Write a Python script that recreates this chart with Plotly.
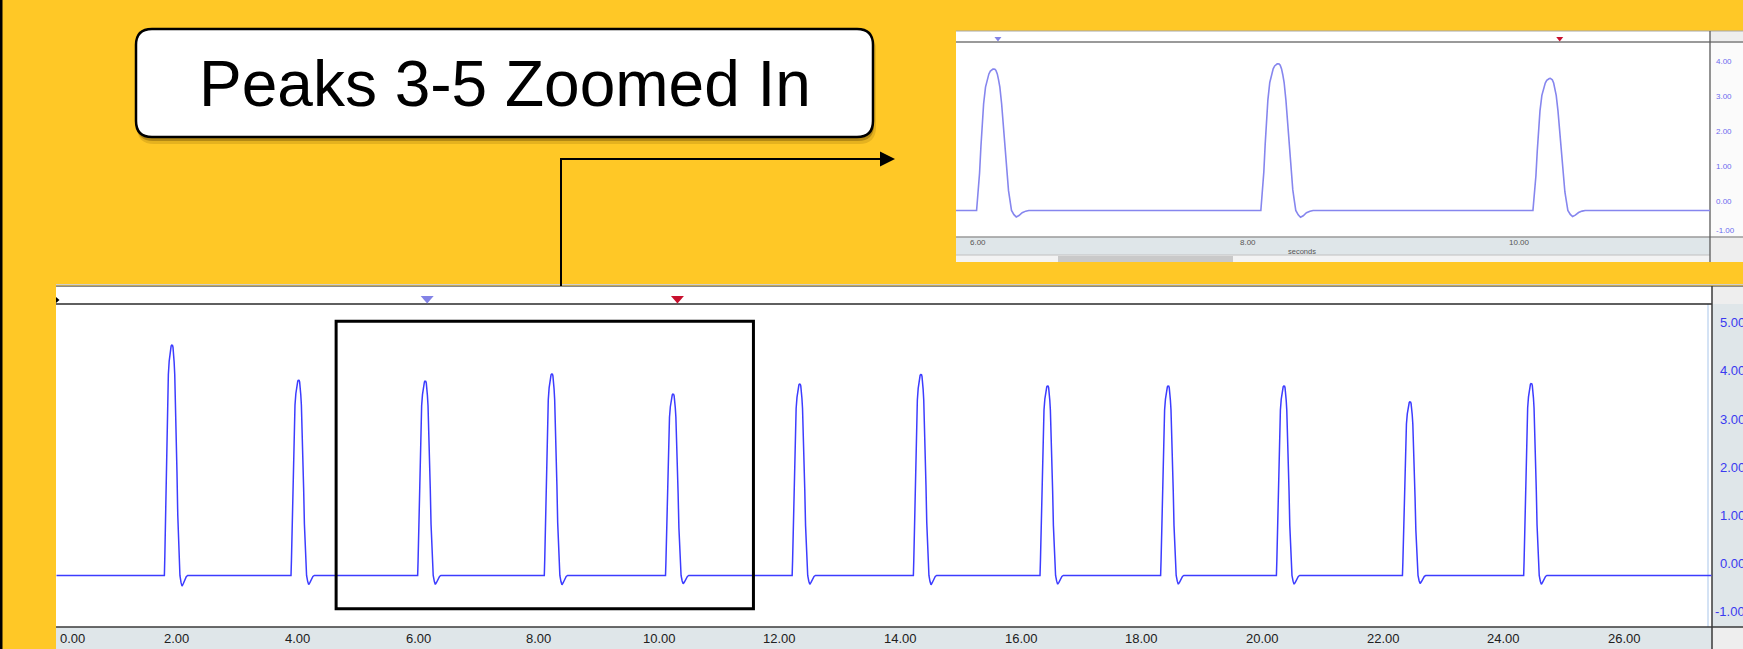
import plotly.graph_objects as go

W, H = 1743, 649

# ---------------- data ----------------
peak_times = [1.92, 4.02, 6.12, 8.22, 10.23, 12.33, 14.34, 16.44, 18.44, 20.36, 22.45, 24.46]
peak_values = [4.54, 3.81, 3.79, 3.94, 3.52, 3.73, 3.93, 3.69, 3.69, 3.69, 3.36, 3.74]
baseline_value = -0.25
record_end = 27.45

# pulse shape (offset in s from the peak, fraction of peak height)
pulse_offsets = [-0.128, -0.121, -0.106, -0.096, -0.086, -0.076, -0.062, -0.048, -0.037, -0.026,
                 -0.016, -0.007, 0.0, 0.007, 0.015, 0.025, 0.034, 0.044, 0.057, 0.066,
                 0.081, 0.094, 0.108, 0.118, 0.130, 0.148, 0.165, 0.185, 0.209, 0.235, 0.258]
pulse_shape = [0.0, 0.076, 0.263, 0.45, 0.637, 0.754, 0.872, 0.93, 0.965, 0.985,
               0.995, 0.999, 1.0, 0.998, 0.99, 0.965, 0.925, 0.872, 0.754, 0.637,
               0.45, 0.263, 0.14, 0.076, 0.0, -0.03, -0.046, -0.036, -0.016, -0.005, 0.0]

main_x_ticks = [0, 2, 4, 6, 8, 10, 12, 14, 16, 18, 20, 22, 24, 26]
main_x_labels = ["0.00", "2.00", "4.00", "6.00", "8.00", "10.00", "12.00", "14.00",
                 "16.00", "18.00", "20.00", "22.00", "24.00", "26.00"]
main_y_ticks = [-1, 0, 1, 2, 3, 4, 5]
main_y_labels = ["-1.00", "0.00", "1.00", "2.00", "3.00", "4.00", "5.00"]
inset_x_ticks = [6, 8, 10]
inset_x_labels = ["6.00", "8.00", "10.00"]
inset_y_ticks = [-1, 0, 1, 2, 3, 4]
inset_y_labels = ["-1.00", "0.00", "1.00", "2.00", "3.00", "4.00"]
marker_times = [6.15, 10.30]
marker_colors = ["#8383e6", "#c8102e"]
zoom_box_x = [4.64, 11.56]
zoom_box_y = [-0.94, 5.03]
title_text = "Peaks 3-5 Zoomed In"
x_unit_label = "seconds"

# ---------------- build signal ----------------
t = [0.0]
v = [baseline_value]
for tp, vp in zip(peak_times, peak_values):
    for off, s in zip(pulse_offsets, pulse_shape):
        t.append(round(tp + off, 4))
        v.append(baseline_value + s * (vp - baseline_value))
t.append(record_end)
v.append(baseline_value)

YELLOW = "#FFC826"
PANEL = "#dfe6e9"
CELL = "#eeeeee"


def PX(x):
    return x / W


def PY(y):
    return 1 - y / H


shapes = []


def rect(x0, y0, x1, y1, fill, layer="below", line_color=None, line_width=0):
    shapes.append(dict(type="rect", xref="paper", yref="paper",
                       x0=PX(x0), x1=PX(x1), y0=PY(y0), y1=PY(y1),
                       fillcolor=fill, layer=layer,
                       line=dict(color=line_color or fill, width=line_width)))


def hline(x0, x1, y, color, width, layer="below"):
    shapes.append(dict(type="line", xref="paper", yref="paper",
                       x0=PX(x0), x1=PX(x1), y0=PY(y), y1=PY(y),
                       line=dict(color=color, width=width), layer=layer))


def vline(x, y0, y1, color, width, layer="below"):
    shapes.append(dict(type="line", xref="paper", yref="paper",
                       x0=PX(x), x1=PX(x), y0=PY(y0), y1=PY(y1),
                       line=dict(color=color, width=width), layer=layer))


def rr_path(x0, y0, x1, y1, r):
    return (f"M {PX(x0 + r)},{PY(y0)} L {PX(x1 - r)},{PY(y0)} "
            f"Q {PX(x1)},{PY(y0)} {PX(x1)},{PY(y0 + r)} L {PX(x1)},{PY(y1 - r)} "
            f"Q {PX(x1)},{PY(y1)} {PX(x1 - r)},{PY(y1)} L {PX(x0 + r)},{PY(y1)} "
            f"Q {PX(x0)},{PY(y1)} {PX(x0)},{PY(y1 - r)} L {PX(x0)},{PY(y0 + r)} "
            f"Q {PX(x0)},{PY(y0)} {PX(x0 + r)},{PY(y0)} Z")


# ---- main panel chrome ----
hline(56, 1743, 284.5, "#cfcfcf", 1)
rect(56, 286, 1712, 304, "white")
rect(1712, 286, 1743, 304, CELL)
hline(56, 1743, 286.3, "#8a8a8a", 1.5)
rect(56, 304, 1712, 627, "white")
rect(1712, 304, 1743, 627, PANEL)
vline(1708, 304, 627, "#a9c6ea", 1)
rect(56, 627, 1712, 649, PANEL)
rect(1712, 627, 1743, 649, CELL)
hline(56, 1712, 304, "#2a2a2a", 1.5)
hline(56, 1743, 627, "#3a3a3a", 1.5)
vline(1712, 286, 649, "#3a3a3a", 1.5)
# small left marker in the strip
shapes.append(dict(type="path", xref="paper", yref="paper", layer="above",
                   path=f"M {PX(56)},{PY(297)} L {PX(59.5)},{PY(300)} L {PX(56)},{PY(303)} Z",
                   fillcolor="black", line=dict(width=0)))

# ---- inset chrome ----
rect(956, 31, 1710, 42, "white")
rect(1710, 31, 1743, 42, CELL)
rect(956, 42, 1710, 237, "white")
rect(1710, 42, 1743, 237, "#fbfbfb")
rect(956, 237, 1710, 255, PANEL)
rect(956, 255, 1710, 262, "#f3f3f3")
rect(1058, 256, 1233, 262, "#c9c9c9")
rect(1710, 237, 1743, 262, CELL)
hline(956, 1743, 31, "#a8a8a8", 1.2)
hline(956, 1743, 42, "#9a9a9a", 1.8)
hline(956, 1743, 237, "#9a9a9a", 1.5)
hline(956, 1710, 255, "#c0c0c0", 1)
vline(1710, 31, 262, "#5a5a5a", 1.3)

# ---- cursor markers (triangles) ----
for tm, col in zip(marker_times, marker_colors):
    shapes.append(dict(type="path", xref="x", yref="paper", layer="above",
                       xsizemode="pixel", ysizemode="pixel", xanchor=tm, yanchor=PY(296),
                       path="M -6.5,0 L 6.5,0 L 0,-7.5 Z", fillcolor=col, line=dict(width=0)))
    shapes.append(dict(type="path", xref="x2", yref="paper", layer="above",
                       xsizemode="pixel", ysizemode="pixel", xanchor=tm, yanchor=PY(37),
                       path="M -3.5,0 L 3.5,0 L 0,-4.5 Z", fillcolor=col, line=dict(width=0)))

# ---- zoom box on main chart ----
shapes.append(dict(type="rect", xref="x", yref="y", layer="above",
                   x0=zoom_box_x[0], x1=zoom_box_x[1], y0=zoom_box_y[0], y1=zoom_box_y[1],
                   line=dict(color="black", width=3), fillcolor="rgba(0,0,0,0)"))

# ---- connector arrow ----
shapes.append(dict(type="path", xref="paper", yref="paper", layer="above",
                   path=f"M {PX(561)},{PY(286)} L {PX(561)},{PY(159)} L {PX(882)},{PY(159)}",
                   line=dict(color="black", width=2)))
shapes.append(dict(type="path", xref="paper", yref="paper", layer="above",
                   path=f"M {PX(880)},{PY(151.5)} L {PX(895)},{PY(159)} L {PX(880)},{PY(166.5)} Z",
                   fillcolor="black", line=dict(width=0)))

# ---- title box with shadow ----
shapes.append(dict(type="path", xref="paper", yref="paper", layer="above",
                   path=rr_path(137, 33, 876, 144, 17), fillcolor="rgba(110,75,0,0.18)",
                   line=dict(width=0)))
shapes.append(dict(type="path", xref="paper", yref="paper", layer="above",
                   path=rr_path(137, 31, 874, 141, 16), fillcolor="rgba(90,60,0,0.35)",
                   line=dict(width=0)))
shapes.append(dict(type="path", xref="paper", yref="paper", layer="above",
                   path=rr_path(136, 29, 873, 137, 16), fillcolor="white",
                   line=dict(color="black", width=2.5)))

# ---- slide left border ----
rect(0, 0, 2.5, 649, "black", layer="above")

# ---------------- figure ----------------
fig = go.Figure()
fig.add_trace(go.Scatter(x=t, y=v, mode="lines", xaxis="x", yaxis="y",
                         line=dict(color="#3c3cff", width=1.5), hoverinfo="skip"))
fig.add_trace(go.Scatter(x=t, y=v, mode="lines", xaxis="x2", yaxis="y2",
                         line=dict(color="#8686ee", width=1.6), hoverinfo="skip"))

annotations = []
FONT = "Liberation Sans, Arial, sans-serif"
for i, (tk, lab) in enumerate(zip(main_x_ticks, main_x_labels)):
    annotations.append(dict(x=tk, y=PY(638), xref="x", yref="paper", text=lab,
                            showarrow=False, xanchor="left" if i == 0 else "center",
                            xshift=2 if i == 0 else 0, yanchor="middle",
                            font=dict(family=FONT, size=13, color="#202020")))
for tk, lab in zip(main_y_ticks, main_y_labels):
    annotations.append(dict(x=PX(1747), y=tk, xref="paper", yref="y", text=lab,
                            showarrow=False, xanchor="right", yanchor="middle",
                            font=dict(family=FONT, size=13, color="#3a3af0")))
for tk, lab in zip(inset_x_ticks, inset_x_labels):
    annotations.append(dict(x=tk, y=PY(242.7), xref="x2", yref="paper", text=lab,
                            showarrow=False, xanchor="center", yanchor="middle",
                            font=dict(family=FONT, size=8, color="#555555")))
annotations.append(dict(x=PX(1302), y=PY(251), xref="paper", yref="paper", text=x_unit_label,
                        showarrow=False, xanchor="center", yanchor="middle",
                        font=dict(family=FONT, size=7.5, color="#555555")))
for tk, lab in zip(inset_y_ticks, inset_y_labels):
    annotations.append(dict(x=PX(1714), y=tk, xref="paper", yref="y2", text=lab,
                            showarrow=False, xanchor="left",
                            yanchor="bottom" if tk == inset_y_ticks[0] else "middle",
                            font=dict(family=FONT, size=8, color="#6b6bef")))
annotations.append(dict(x=PX(505), y=PY(84), xref="paper", yref="paper", text=title_text,
                        showarrow=False, xanchor="center", yanchor="middle",
                        font=dict(family=FONT, size=64, color="black")))

fig.update_layout(
    width=W, height=H, autosize=False,
    margin=dict(l=0, r=0, t=0, b=0, pad=0),
    paper_bgcolor=YELLOW, plot_bgcolor="rgba(0,0,0,0)",
    showlegend=False,
    xaxis=dict(domain=[PX(56.3), PX(1711.7)], range=[0, record_end], visible=False,
               fixedrange=True),
    yaxis=dict(domain=[PY(627), PY(304)], range=[-1.32, 5.39], visible=False, fixedrange=True),
    xaxis2=dict(domain=[PX(956), PX(1710)], range=[5.84, 11.41], visible=False,
                anchor="y2", fixedrange=True),
    yaxis2=dict(domain=[PY(236.7), PY(42)], range=[-1.0, 4.56], visible=False,
                anchor="x2", fixedrange=True),
    shapes=shapes,
    annotations=annotations,
)

fig.write_html("out.html", config={"displayModeBar": False},
               post_script="document.body.style.margin='0';document.body.style.overflow='hidden';")
